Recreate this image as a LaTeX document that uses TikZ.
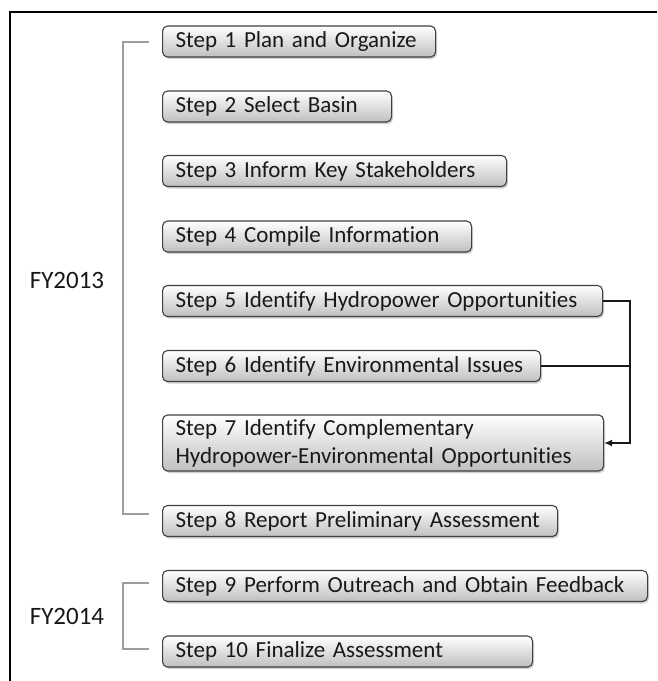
\documentclass[tikz,border=0pt]{standalone}
\usepackage{fontspec}
\setmainfont{Carlito}[Ligatures={NoCommon}]
\usetikzlibrary{shadows,arrows.meta}
\begin{document}
\begin{tikzpicture}[x=1pt,y=-1pt,
  stepbox/.style={draw=black!75, line width=1.1pt, rounded corners=5pt,
    top color=white, bottom color=black!25,
    drop shadow={shadow xshift=1.5pt, shadow yshift=-2pt, opacity=0.3, fill=black!60},
    anchor=west, inner xsep=13pt, inner ysep=0pt, minimum height=31pt,
    align=left, text=black!90, font=\fontsize{23}{28}\selectfont},
  bracket/.style={draw=black!38, line width=2pt},
  conn/.style={draw=black!90, line width=1.5pt},
  fy/.style={font=\fontsize{25}{28}\selectfont, text=black!90},
]
\useasboundingbox (0,0) rectangle (657,681);
\draw[line width=2pt] (657,12) -- (10,12) -- (10,681);

\node[stepbox, text width=247pt] (s1) at (162,41.5) {\mbox{Step 1 Plan and Organize}};
\node[stepbox, text width=203pt] (s2) at (162,106.5) {\mbox{Step 2 Select Basin}};
\node[stepbox, text width=318pt] (s3) at (162,171) {\mbox{Step 3 Inform Key Stakeholders}};
\node[stepbox, text width=283pt] (s4) at (162,236.5) {\mbox{Step 4 Compile Information}};
\node[stepbox, text width=414pt] (s5) at (162,301) {\mbox{Step 5 Identify Hydropower Opportunities}};
\node[stepbox, text width=352pt] (s6) at (162,366) {\mbox{Step 6 Identify Environmental Issues}};
\node[stepbox, text width=415pt, minimum height=56pt] (s7) at (162,443) {\mbox{Step 7 Identify Complementary}\\\mbox{Hydropower-Environmental Opportunities}};
\node[stepbox, text width=369pt] (s8) at (162,521) {\mbox{Step 8 Report Preliminary Assessment}};
\node[stepbox, text width=459pt] (s9) at (162,586) {\mbox{Step 9 Perform Outreach and Obtain Feedback}};
\node[stepbox, text width=344pt] (s10) at (162,651.5) {\mbox{Step 10 Finalize Assessment}};

\node[fy] (fy13) at (67,280) {FY2013};
\node[fy] (fy14) at (67,616) {FY2014};

\coordinate (b1) at ([xshift=-13pt]s1.west);
\coordinate (b8) at ([xshift=-13pt,yshift=7pt]s8.west);
\coordinate (b9) at ([xshift=-13pt,yshift=3pt]s9.west);
\coordinate (b10) at ([xshift=-13pt,yshift=2.5pt]s10.west);
\draw[bracket] (b1) -- ++(-26,0) |- (b8);
\draw[bracket] (b9) -- ++(-26,0) |- (b10);

\coordinate (bus) at ([xshift=27pt]s5.east);
\draw[conn, -{Latex[length=8pt,width=7pt]}] (s5.east) -- (bus) |- (s7.east);
\draw[conn] (s6.east) -- (s6.east -| bus);
\end{tikzpicture}
\end{document}
